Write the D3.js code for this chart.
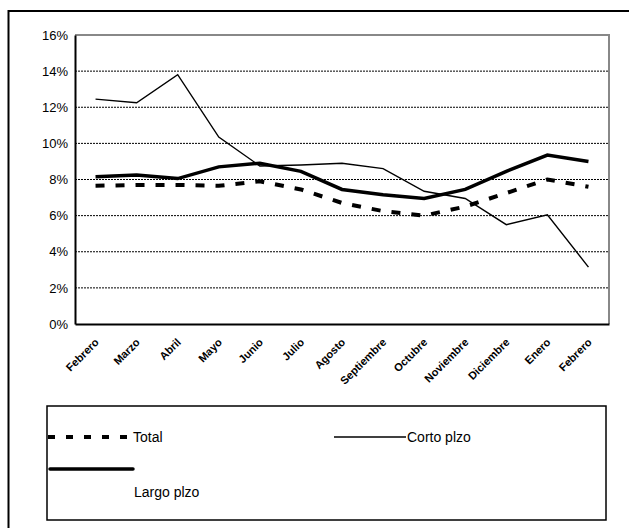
<!DOCTYPE html>
<html><head><meta charset="utf-8">
<script src="https://cdn.jsdelivr.net/npm/d3@7"></script>
<style>body{margin:0;background:#fff}svg{display:block}text{font-family:"Liberation Sans",Arial,sans-serif}</style>
</head><body>
<svg id="c" width="629" height="528"></svg>
<script>
const categories = ["Febrero","Marzo","Abril","Mayo","Junio","Julio","Agosto","Septiembre","Octubre","Noviembre","Diciembre","Enero","Febrero"];
const total = [7.65,7.7,7.7,7.65,7.9,7.45,6.7,6.25,6.0,6.5,7.25,8.0,7.6];
const corto = [12.45,12.25,13.8,10.35,8.75,8.8,8.9,8.6,7.35,6.95,5.5,6.05,3.15];
const largo = [8.15,8.25,8.05,8.7,8.9,8.45,7.45,7.15,6.95,7.45,8.45,9.35,9.0];
const yTicks = [0,2,4,6,8,10,12,14,16];
const seriesNames = ["Total","Corto plzo","Largo plzo"];

const svg = d3.select("#c");
const L=75,R=609,T=35,B=324;
// outer frame
svg.append("rect").attr("x",8.5).attr("y",11).attr("width",700).attr("height",600)
  .attr("fill","none").attr("stroke","#000").attr("stroke-width",2);

const x = d3.scaleBand().domain(d3.range(categories.length)).range([L,R]);
const y = d3.scaleLinear().domain([0,16]).range([B,T]);
const cx = i => x(i)+x.bandwidth()/2;

// grid
svg.append("g").selectAll("line").data(yTicks.filter(v=>v>0&&v<16)).join("line")
  .attr("x1",L).attr("x2",R).attr("y1",d=>y(d)).attr("y2",d=>y(d))
  .attr("stroke","#000").attr("stroke-width",1).attr("stroke-dasharray","2,1");

// borders
svg.append("path").attr("d",`M${L},${T}H${R}V${B}`).attr("fill","none").attr("stroke","#888").attr("stroke-width",2);
// y axis
const ya = svg.append("g").attr("transform",`translate(${L},0)`)
  .call(d3.axisLeft(y).tickValues(yTicks).tickFormat(d=>d+"%").tickSize(0).tickPadding(7));
ya.select(".domain").attr("stroke","#000").attr("stroke-width",2);
ya.selectAll("text").attr("font-size",13).attr("fill","#000").attr("font-family","Liberation Sans, Arial, sans-serif");
// x axis
const xa = svg.append("g").attr("transform",`translate(0,${B})`)
  .call(d3.axisBottom(x).tickFormat(i=>categories[i]).tickSize(0).tickPadding(0));
xa.select(".domain").attr("stroke","#000").attr("stroke-width",2);
xa.selectAll("text").attr("font-size",11).attr("font-weight","bold").attr("fill","#000")
  .attr("font-family","Liberation Sans, Arial, sans-serif")
  .attr("text-anchor","end").attr("dy",0)
  .attr("transform","translate(4,19) rotate(-45)");

const line = d3.line().x((d,i)=>cx(i)).y(d=>y(d));
svg.append("path").datum(corto).attr("d",line).attr("fill","none").attr("stroke","#000").attr("stroke-width",1.4);
svg.append("path").datum(largo).attr("d",line).attr("fill","none").attr("stroke","#000").attr("stroke-width",3.5);
svg.append("path").datum(total).attr("d",line).attr("fill","none").attr("stroke","#000").attr("stroke-width",4).attr("stroke-dasharray","9,11");

// legend
const lg = svg.append("g");
lg.append("rect").attr("x",47).attr("y",406).attr("width",559).attr("height",114)
  .attr("fill","none").attr("stroke","#000").attr("stroke-width",1.5);
lg.append("line").attr("x1",48).attr("x2",131).attr("y1",437).attr("y2",437)
  .attr("stroke","#000").attr("stroke-width",4).attr("stroke-dasharray","7,11");
lg.append("text").attr("x",133).attr("y",442).attr("font-size",14).text(seriesNames[0]);
lg.append("line").attr("x1",334).attr("x2",406).attr("y1",437).attr("y2",437)
  .attr("stroke","#000").attr("stroke-width",1.4);
lg.append("text").attr("x",407).attr("y",442).attr("font-size",14).text(seriesNames[1]);
lg.append("line").attr("x1",50).attr("x2",133).attr("y1",469).attr("y2",469)
  .attr("stroke","#000").attr("stroke-width",3.5).attr("stroke-linecap","round");
lg.append("text").attr("x",134).attr("y",497).attr("font-size",14).text(seriesNames[2]);
</script>
</body></html>
